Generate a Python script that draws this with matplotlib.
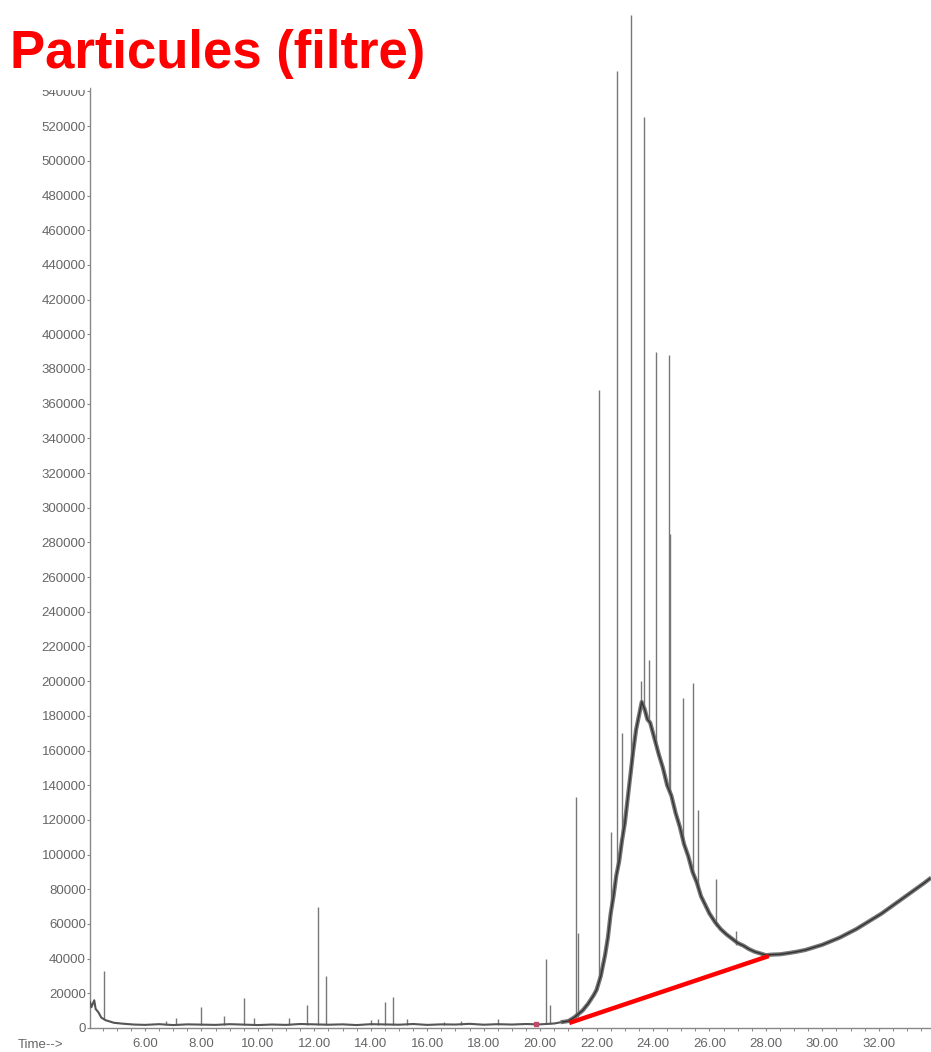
import matplotlib
matplotlib.use('Agg')
import matplotlib.pyplot as plt
from matplotlib.patches import Rectangle
from matplotlib.ticker import MultipleLocator, FuncFormatter

# chromatogram envelope (baseline + broad hump), time in min, abundance
env_t = [4.05, 4.1, 4.2, 4.25, 4.35, 4.45, 4.6, 4.7, 4.9, 5.2, 5.6, 6.0, 6.5,
         7.0, 7.5, 8.5, 9.0, 10.0, 10.5, 11.0, 11.5, 12.5, 13.0, 13.5, 14.0,
         15.0, 15.5, 16.0, 16.5, 17.0, 17.5, 18.0, 18.5, 19.0, 19.5, 20.0,
         20.5, 20.8, 21.0, 21.2, 21.5, 21.7, 21.9, 22.0, 22.15, 22.3, 22.4,
         22.5, 22.6, 22.7, 22.8, 22.9, 23.0, 23.1, 23.2, 23.3, 23.4, 23.5,
         23.6, 23.7, 23.8, 23.9, 24.0, 24.1, 24.2, 24.35, 24.5, 24.65, 24.8,
         24.95, 25.1, 25.25, 25.4, 25.55, 25.7, 25.85, 26.0, 26.2, 26.4, 26.6,
         26.8, 27.0, 27.2, 27.4, 27.6, 27.8, 28.0, 28.2, 28.5, 28.8, 29.1,
         29.4, 29.7, 30.0, 30.3, 30.6, 30.9, 31.2, 31.5, 31.8, 32.1, 32.4,
         32.7, 33.0, 33.3, 33.6, 33.8]
env_v = [15000, 12000, 16000, 11000, 9000, 6000, 4500, 4000, 3000, 2500, 2000,
         1800, 2200, 1700, 2100, 1800, 2200, 1700, 2000, 1800, 2300, 1900,
         2100, 1700, 2200, 1900, 2300, 1800, 2100, 2000, 2400, 1900, 2200,
         2000, 2300, 2100, 2600, 3500, 4000, 6000, 10000, 14000, 19000, 22000,
         30000, 42000, 52000, 66000, 76000, 88000, 96000, 108000, 118000,
         132000, 146000, 160000, 172000, 180000, 188000, 184000, 178000,
         176000, 170000, 164000, 158000, 150000, 140000, 134000, 124000,
         116000, 106000, 99000, 90000, 84000, 76000, 71000, 66000, 61000,
         57000, 54000, 51500, 49000, 47500, 45500, 44000, 43000, 42000,
         42300, 42500, 43200, 44000, 45000, 46500, 48000, 50000, 52000, 54500,
         57000, 60000, 63000, 66000, 69500, 73000, 76500, 80000, 83500, 86000]

# sharp peaks: retention time, foot and apex abundance
pk_t = [4.55, 6.75, 7.1, 8.0, 8.8, 9.5, 9.85, 11.1, 11.75, 12.12, 12.42,
        14.0, 14.25, 14.5, 14.8, 15.3, 16.6, 17.2, 18.5, 20.22, 20.35,
        21.28, 21.34, 22.09, 22.51, 22.71, 22.9, 23.22, 23.58, 23.69, 23.86,
        24.12, 24.56, 24.6, 25.07, 25.42, 25.6, 26.23, 26.94]
pk_base = [5000, 2000, 2000, 2000, 2000, 2000, 2000, 2000, 2000, 2000, 2000,
           2000, 2000, 2000, 2000, 2000, 2000, 2000, 2000, 2400, 2500,
           6000, 6500, 27000, 70000, 90000, 112000, 148000, 186000, 186000,
           178000, 165000, 138000, 136000, 108000, 88000, 80000, 59000, 48000]
pk_top = [33000, 4000, 5500, 12000, 7000, 17500, 5500, 6000, 13000, 70000,
          30000, 4500, 5000, 15000, 18000, 5000, 3500, 4000, 5000, 40000,
          13000, 133000, 55000, 368000, 113000, 552000, 170000, 584000,
          200000, 525000, 212000, 390000, 388000, 285000, 190000, 199000,
          125600, 86000, 56000]

# red tangent drawn under the hump
red_t = [21.03, 28.1]
red_v = [2900, 41500]

W, H = 931, 1052
fig = plt.figure(figsize=(W / 100, H / 100), dpi=100)
plt.rcParams['font.family'] = ['Liberation Sans', 'DejaVu Sans']
ax = fig.add_axes([90 / W, 1 - 1028 / H, 1 - 90 / W, (1028 - 88) / H])

# thin baseline part, then the noisy thick hump
cut = env_t.index(20.8)
ax.plot(env_t[:cut + 1], env_v[:cut + 1], color='#555555', lw=1.5, zorder=3)
ax.plot(env_t[cut:], env_v[cut:], color='#666666', lw=3.0, clip_on=False,
        zorder=3, alpha=0.9)
ax.plot(env_t[cut:], env_v[cut:], color='#333333', lw=1.0, clip_on=False, zorder=3)
ax.vlines(pk_t, pk_base, pk_top, color='#777777', lw=1.0, clip_on=False, zorder=2)
ax.plot(red_t, red_v, color='#ff0000', lw=3.2, solid_capstyle='butt', zorder=4)
ax.plot([19.85], [2300], marker='s', ms=3, color='#c04a6a', zorder=5)

ax.set_xlim(4.05, 33.85)
ax.set_ylim(0, 542000)
ax.xaxis.set_major_locator(MultipleLocator(2))
ax.xaxis.set_minor_locator(MultipleLocator(0.5))
ax.yaxis.set_major_locator(MultipleLocator(20000))
ax.xaxis.set_major_formatter(FuncFormatter(lambda v, p: f'{v:.2f}' if v >= 5.9 else ''))
ax.yaxis.set_major_formatter(FuncFormatter(lambda v, p: f'{v:.0f}'))

for s in ['top', 'right']:
    ax.spines[s].set_visible(False)
for s in ['left', 'bottom']:
    ax.spines[s].set_color('#888888')
    ax.spines[s].set_linewidth(1.0)
ax.tick_params(axis='both', colors='#888888', labelcolor='#666666', labelsize=9.5,
               length=2, width=0.8)
ax.tick_params(axis='y', pad=1)
ax.tick_params(axis='x', pad=5)
ax.tick_params(axis='x', which='minor', colors='#888888', length=2, width=0.7)

fig.text(18 / W, 1 - 1045 / H, 'Time-->', fontsize=9.5, color='#666666', va='center')

# title hides the top of the highest y label, as in the scan
fig.patches.append(Rectangle((0, 1 - 90 / H), 90 / W, 90 / H, transform=fig.transFigure,
                             facecolor='white', edgecolor='none', zorder=5))
fig.text(10 / W, 1 - 68 / H, 'Particules (filtre)', fontsize=38, fontweight='bold',
         color='#ff0000', va='baseline', zorder=6)

plt.savefig('out.png', dpi=100)
plt.close()
